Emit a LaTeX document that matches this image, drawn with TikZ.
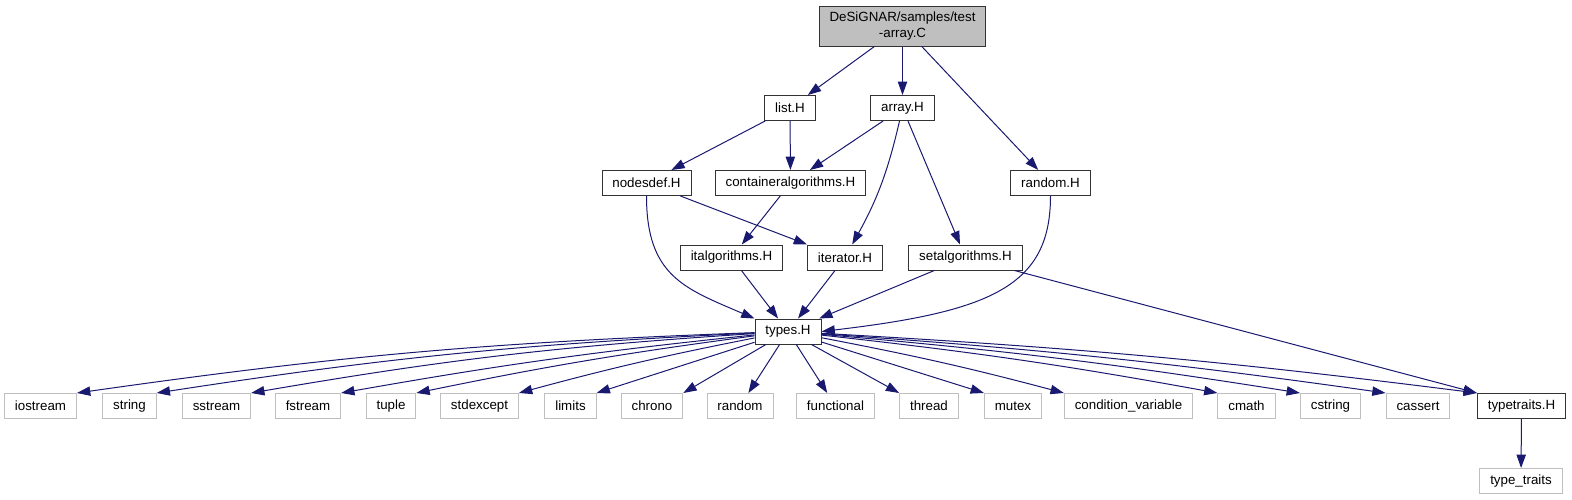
\documentclass[tikz,border=0pt]{standalone}
\usepackage{fontspec}
\setmainfont{Liberation Sans}
\usetikzlibrary{arrows.meta}
\definecolor{midnight}{HTML}{191970}
\definecolor{grey75}{HTML}{BFBFBF}

\begin{document}
\begin{tikzpicture}[
x=0.75pt, y=-0.75pt,
file/.style={draw=black!80, line width=0.75pt, fill=white, minimum height=18.75pt, inner xsep=7.8pt, inner ysep=0pt, font=\fontsize{10}{12}\selectfont},
sys/.style={file, draw=grey75},
root/.style={file, fill=grey75, align=center, minimum height=30pt},
arrow/.style={-{Triangle[length=10pt, width=7pt]}, draw=midnight, line width=0.75pt}
]
\useasboundingbox (0,0) rectangle (1572,500);

\node[root] (root) at (902.5,26) {DeSiGNAR/samples/test\\-array.C};
\node[file] (list) at (790,108) {list.H};
\node[file] (array) at (902.5,108) {array.H};
\node[file] (nodesdef) at (646.5,183) {nodesdef.H};
\node[file] (contalg) at (790.5,183) {containeralgorithms.H};
\node[file] (randomh) at (1050.5,183) {random.H};
\node[file] (italg) at (731.5,257.5) {italgorithms.H};
\node[file] (iterator) at (845,257.5) {iterator.H};
\node[file] (setalg) at (965.5,257.5) {setalgorithms.H};
\node[file] (types) at (788,331.5) {types.H};

% system headers
\node[sys] (iostream) at (40.5,406) {iostream};
\node[sys] (string) at (129.5,406) {string};
\node[sys] (sstream) at (216.5,406) {sstream};
\node[sys] (fstream) at (308,406) {fstream};
\node[sys] (tuple) at (391,406) {tuple};
\node[sys] (stdexcept) at (479.5,406) {stdexcept};
\node[sys] (limits) at (570.5,406) {limits};
\node[sys] (chrono) at (652,406) {chrono};
\node[sys] (randomsys) at (740,406) {random};
\node[sys] (functional) at (835.5,406) {functional};
\node[sys] (thread) at (929,406) {thread};
\node[sys] (mutex) at (1013,406) {mutex};
\node[sys] (condvar) at (1128.5,406) {condition\_variable};
\node[sys] (cmath) at (1246.5,406) {cmath};
\node[sys] (cstring) at (1330.5,406) {cstring};
\node[sys] (cassert) at (1418,406) {cassert};
\node[file] (typetraits) at (1521.5,406) {typetraits.H};
\node[sys] (typetraitssys) at (1521,481) {type\_traits};

\draw[arrow] (root) -- (list);
\draw[arrow] (root) -- (array);
\draw[arrow] (root) -- (randomh);
\draw[arrow] (list) -- (nodesdef);
\draw[arrow] (list) -- (contalg);
\draw[arrow] (array) -- (contalg);
\draw[arrow] (array) to[bend left=8] (iterator);
\draw[arrow] (array) -- (setalg);
\draw[arrow] (nodesdef.south) .. controls +(0,80) and +(-70,-30) .. (types.north west);
\draw[arrow] (nodesdef) -- (iterator.north west);
\draw[arrow] (contalg) -- (italg);
\draw[arrow] (randomh.south) .. controls +(0,90) and +(170,-20) .. (types.east);
\draw[arrow] (italg) -- (types);
\draw[arrow] (iterator) -- (types);
\draw[arrow] (setalg) -- (types);
\draw[arrow] (setalg) -- (typetraits.north west);

\draw[arrow] (types) to[bend right=3] (iostream.north east);
\draw[arrow] (types) to[bend right=3] (string.north east);
\draw[arrow] (types) to[bend right=3] (sstream.north east);
\draw[arrow] (types) to[bend right=2] (fstream.north east);
\draw[arrow] (types) to[bend right=2] (tuple.north east);
\draw[arrow] (types) to[bend right=2] (stdexcept.north east);
\draw[arrow] (types) -- (limits.north east);
\draw[arrow] (types) -- (chrono.north east);
\draw[arrow] (types) -- (randomsys);
\draw[arrow] (types) -- (functional);
\draw[arrow] (types) -- (thread.north west);
\draw[arrow] (types) -- (mutex.north west);
\draw[arrow] (types) to[bend left=2] (condvar.north west);
\draw[arrow] (types) to[bend left=2] (cmath.north west);
\draw[arrow] (types) to[bend left=2] (cstring.north west);
\draw[arrow] (types) to[bend left=2] (cassert.north west);
\draw[arrow] (types) to[bend left=2] (typetraits.north west);
\draw[arrow] (typetraits) -- (typetraitssys);
\end{tikzpicture}
\end{document}
